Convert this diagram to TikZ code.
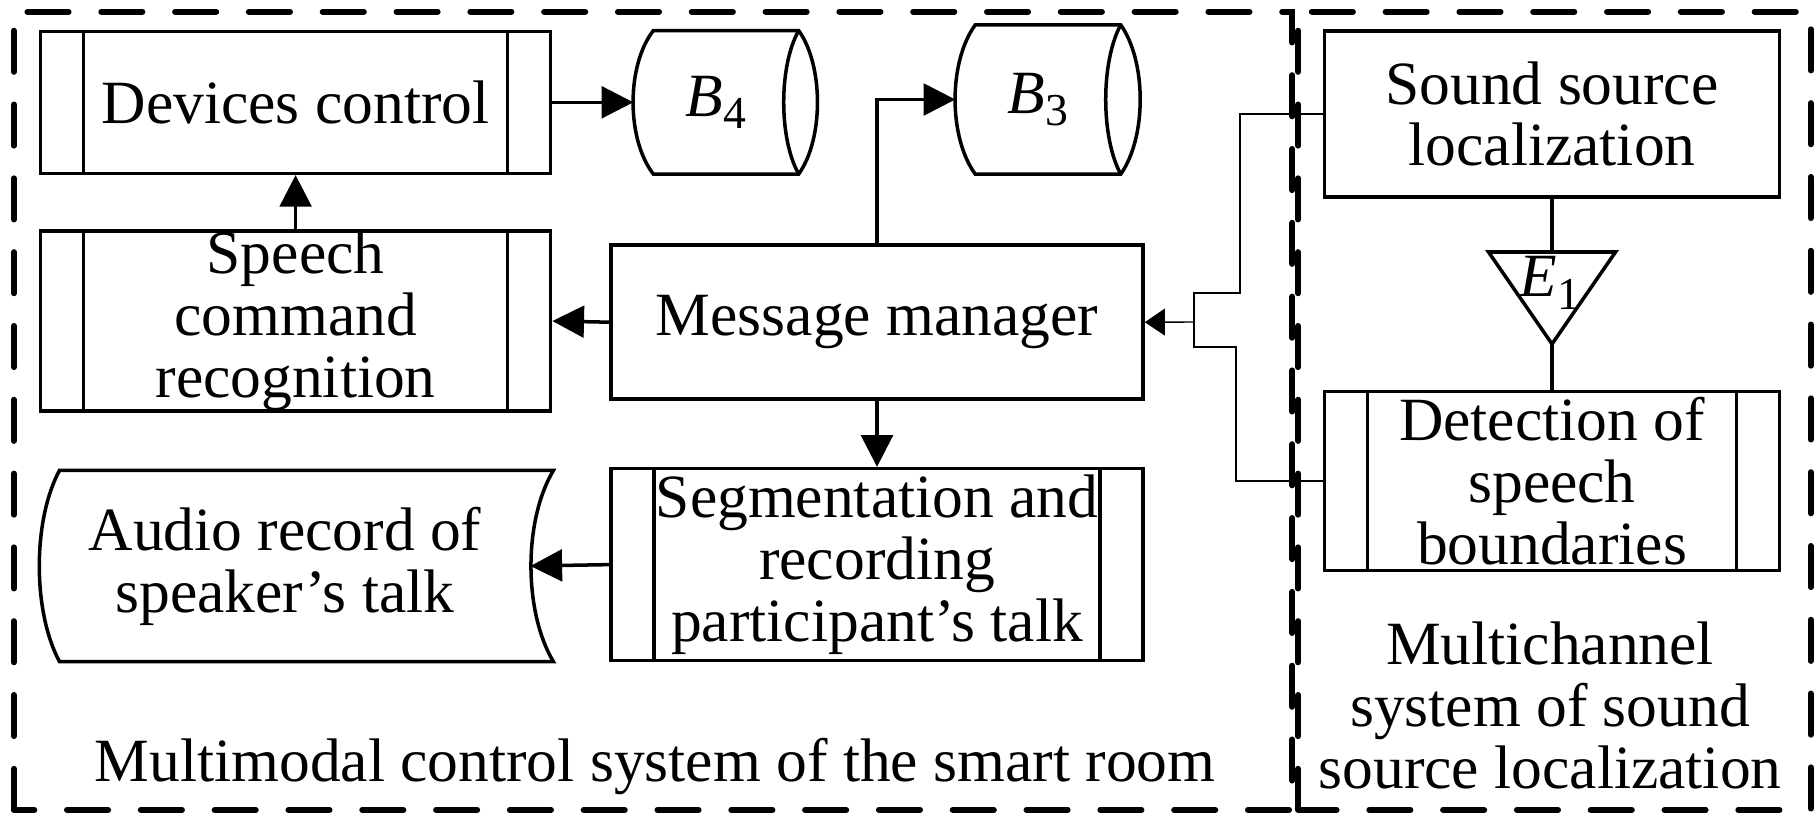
\documentclass[tikz,border=0pt]{standalone}
\usepackage{fontspec}
\setmainfont{Liberation Serif}
\usepackage{tikz}
\usetikzlibrary{arrows.meta}

\newcommand{\subidx}[1]{\raisebox{-0.2em}{\fontsize{13}{13}\selectfont #1}}

\tikzset{
    every node/.style={font=\fontsize{17.5}{17.6}\selectfont, align=center},
    box/.style={draw, line width=1pt, inner sep=0pt},
    subproc/.style={
        box,
        path picture={
            \draw[line width=1pt] ([xshift=4.3mm]path picture bounding box.north west) -- ([xshift=4.3mm]path picture bounding box.south west);
            \draw[line width=1pt] ([xshift=-4.3mm]path picture bounding box.north east) -- ([xshift=-4.3mm]path picture bounding box.south east);
        }
    },
    store/.style={inner sep=0pt},
    arr/.style={line width=1pt, -{Triangle[length=9pt,width=9pt]}},
    thinline/.style={line width=0.4pt},
    thinarr/.style={-{Triangle[length=5.7pt,width=7.6pt]}},
    frame/.style={line width=1.7pt, line cap=round, dash pattern=on 11.7pt off 9.3pt}
}

\begin{document}
\begin{tikzpicture}
        \useasboundingbox (0,0) rectangle (18.14,8.13);
        \draw[frame] (0.139,0.031) rectangle (12.924,8.014);
        \draw[frame] (12.982,0.031) rectangle (18.107,8.014);

        \node[
            subproc,
            minimum width = 5.10cm,
            minimum height = 1.42cm] (devctl) at (2.956,7.107) {Devices control};
        \node[
            subproc,
            minimum width = 5.10cm,
            minimum height = 1.79cm] (speech) at (2.956,4.92) {Speech\\command\\recognition};
        \node[
            box,
            minimum width = 5.32cm,
            minimum height = 1.54cm] (msgmgr) at (8.77,4.908) {Message manager};
        \node[
            subproc,
            minimum width = 5.32cm,
            minimum height = 1.92cm] (segm) at (8.77,2.484) {Segmentation and\\recording\\participant’s talk};
        \node[
            store,
            minimum width = 4.895cm,
            minimum height = 1.90cm] (audio) at (2.85,2.47) {Audio record of\\speaker’s talk};
        \node[
            store,
            minimum width = 1.64cm,
            minimum height = 1.42cm] (b4) at (7.16,7.107) {\textit{B}\subidx{4}};
        \node[
            store,
            minimum width = 1.64cm,
            minimum height = 1.48cm] (b3) at (10.38,7.135) {\textit{B}\subidx{3}};
        \node[
            box,
            minimum width = 4.55cm,
            minimum height = 1.655cm] (snd) at (15.52,6.99) {Sound source\\localization};
        \node[
            subproc,
            minimum width = 4.55cm,
            minimum height = 1.79cm] (det) at (15.52,3.32) {Detection of\\speech\\boundaries};

        \draw[line width=1pt] ([xshift=2mm]audio.north west) -- ([xshift=2.3mm]audio.north east)
            .. controls +(-0.3,-0.5) and +(-0.3,0.5) .. ([xshift=2.3mm]audio.south east)
            -- ([xshift=2mm]audio.south west)
            .. controls +(-0.27,0.5) and +(-0.27,-0.5) .. cycle;
        \draw[line width=1pt] ([xshift=2mm]b4.north west) -- (b4.north east)
            .. controls +(0.25,-0.35) and +(0.25,0.35) .. (b4.south east)
            -- ([xshift=2mm]b4.south west)
            .. controls +(-0.27,0.35) and +(-0.27,-0.35) .. cycle;
        \draw[line width=1pt] (b4.north east) .. controls +(-0.2,-0.35) and +(-0.2,0.35) .. (b4.south east);
        \draw[line width=1pt] ([xshift=2mm]b3.north west) -- (b3.north east)
            .. controls +(0.26,-0.37) and +(0.26,0.37) .. (b3.south east)
            -- ([xshift=2mm]b3.south west)
            .. controls +(-0.27,0.37) and +(-0.27,-0.37) .. cycle;
        \draw[line width=1pt] (b3.north east) .. controls +(-0.2,-0.37) and +(-0.2,0.37) .. (b3.south east);

        \coordinate (e1top) at (15.52,5.61);
        \coordinate (e1apex) at (15.52,4.69);
        \draw[line width=1pt] ([xshift=-6.35mm]e1top) -- ([xshift=6.35mm]e1top) -- (e1apex) -- cycle;
        \node (e1) at (15.50,5.30) {\textit{E}\subidx{1}};
        \draw[line width=1pt] (snd.south) -- (e1top);
        \draw[line width=1pt] (e1apex) -- (det.north);

        \draw[arr] (devctl.east) -- (b4.west);
        \draw[arr] (msgmgr.north) |- (b3.west);
        \draw[arr] (speech.north) -- (devctl.south);
        \draw[arr] (msgmgr.west) -- (speech.east);
        \draw[arr] (msgmgr.south) -- (segm.north);
        \draw[arr] (segm.west) -- (audio.east);

        \coordinate (jn) at (11.94,4.91);
        \draw[thinline] (snd.west) -| (12.40,5.20) -- (11.94,5.20) -- (11.94,4.66) -- (12.36,4.66) |- (det.west);
        \draw[thinline, thinarr] (jn) -- (msgmgr.east);

        \node (lblleft) at (6.55,0.47) {Multimodal control system of the smart room};
        \node (lblright) at (15.50,1.072) {Multichannel\\system of sound\\source localization};
    \end{tikzpicture}
\end{document}
